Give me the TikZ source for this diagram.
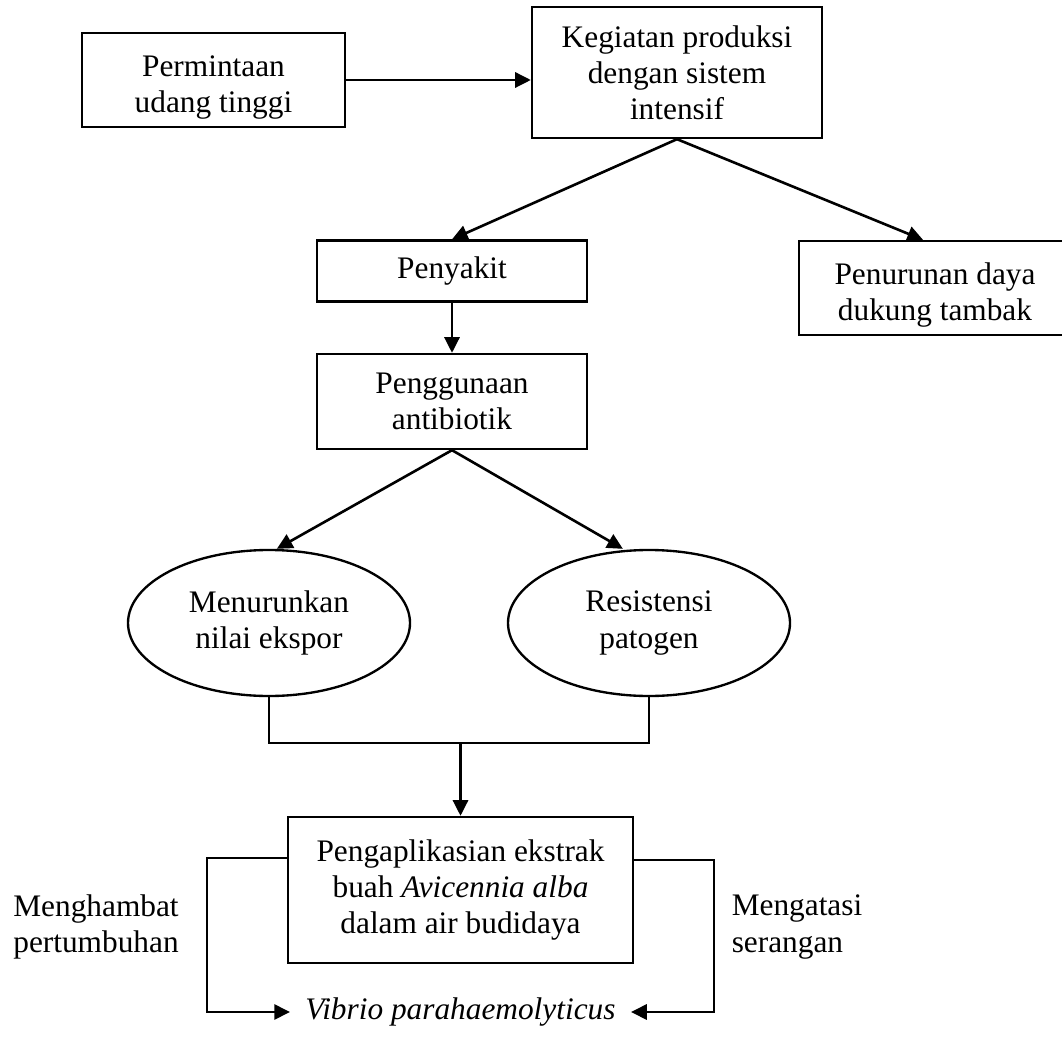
\documentclass[tikz,border=0pt,12pt]{standalone}
\usepackage{fontspec}
\setmainfont{Liberation Serif}
\usepackage{tikz}
\usetikzlibrary{positioning}
\usetikzlibrary{arrows.meta}
\usetikzlibrary{shapes.geometric}
\newcommand{\satuan}{0.383pt}
\newcommand{\atas}{\rule{0pt}{14pt}}
\tikzset{every picture/.style={
    every path/.style={line width=0.9pt},
    every node/.style={font=\fontsize{12pt}{13.8pt}\selectfont, align=center},
}}
\tikzset{
    kotak/.style args={#1x#2}{draw, rectangle, minimum width=#1*\satuan, minimum height=#2*\satuan, inner sep=0pt},
    lonjong/.style={draw, ellipse, minimum width=282*\satuan, minimum height=146*\satuan, inner sep=0pt},
    panah/.style={line width=1pt, -{Triangle[length=6pt,width=5.8pt]}},
}

\begin{document}
\begin{tikzpicture}[x=\satuan, y=-\satuan]
    \useasboundingbox (0,0) rectangle (1062,1037);
    \node[kotak=263x94] (minta) at (213.5,80) {\atas Permintaan\\udang tinggi};
    \node[kotak=290x131] (produksi) at (677,72.5) {Kegiatan produksi\\dengan sistem\\intensif};
    \node[kotak=270x61] (penyakit) at (452,271) {Penyakit};
    \node[kotak=272x94] (turun) at (935,288) {\atas Penurunan daya\\dukung tambak};
    \node[kotak=270x95] (antibiotik) at (452,401.5) {Penggunaan\\antibiotik};
    \node[lonjong] (ekspor) at (269,623) {Menurunkan\\nilai ekspor};
    \node[lonjong] (resisten) at (649,623) {Resistensi\\patogen};
    \node[kotak=345x146] (aplikasi) at (460.5,890) {Pengaplikasian ekstrak\\buah \textit{Avicennia alba}\\dalam air budidaya};
    \node[inner sep=5.5pt] (vibrio) at (460.5,1012) {\textit{Vibrio parahaemolyticus}};
    \node[align=left] (hambat) at (96,927) {Menghambat\\pertumbuhan};
    \node[align=left] (atasi) at (797,927) {Mengatasi\\serangan};
    \coordinate (gabung) at (aplikasi.north |- 0,743);

    \draw[panah] (minta.east) -- (minta.east -| produksi.west);
    \draw[panah] (produksi.south) -- (penyakit.north);
    \draw[panah] (produksi.south) -- ([xshift=-4.6pt]turun.north);
    \draw[panah] (penyakit) -- (antibiotik);
    \draw[panah] (antibiotik.south) -- ([xshift=3pt]ekspor.north);
    \draw[panah] (antibiotik.south) -- ([xshift=-10pt]resisten.north);
    \draw (ekspor.south) |- (gabung) -| (resisten.south);
    \draw[panah] (gabung) -- (aplikasi.north);
    \draw[panah] (aplikasi.west |- 0,858) -- ++(-80,0) |- (vibrio.west);
    \draw[panah] (aplikasi.east |- 0,860) -- ++(80,0) |- (vibrio.east);
\end{tikzpicture}
\end{document}
